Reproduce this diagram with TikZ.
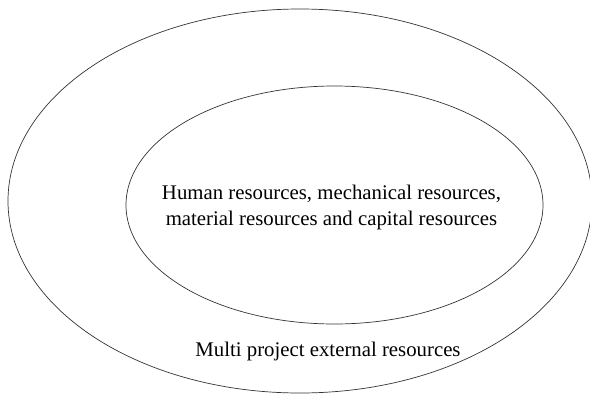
\documentclass[tikz,border=0pt]{standalone}
\usepackage{fontspec}
\setmainfont{Liberation Serif}
\usetikzlibrary{shapes.geometric}

\begin{document}
\begin{tikzpicture}[x=1pt,y=-1pt,
ring/.style={ellipse,draw=black!80,line width=0.7pt,inner sep=0pt},
lbl/.style={font=\fontsize{20.8}{26}\selectfont,align=center,inner sep=0pt}
]
\useasboundingbox (0,0) rectangle (590,402);

\node[ring,minimum width=584pt,minimum height=384pt] (outer) at (300,201) {};
\node[ring,minimum width=417pt,minimum height=238pt] (inner) at (334.5,205) {};

\node[lbl] (core) at (331.5,207) {Human resources, mechanical resources,\\material resources and capital resources};
\node[lbl,anchor=base] (ext) at (328,356) {Multi project external resources};
\end{tikzpicture}
\end{document}
